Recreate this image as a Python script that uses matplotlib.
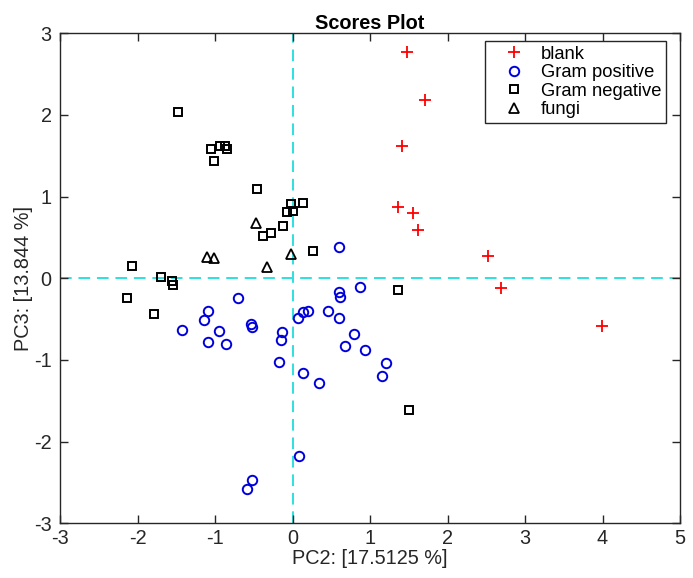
import matplotlib
matplotlib.use("Agg")
import matplotlib.pyplot as plt

plt.rcParams['font.family'] = ['Liberation Sans', 'DejaVu Sans']

blank_x = [1.474, 1.71, 1.41, 1.357, 1.56, 1.615, 2.52, 2.686, 3.997]
blank_y = [2.775, 2.18, 1.62, 0.877, 0.80, 0.59, 0.277, -0.12, -0.58]

gpos_x = [-0.707, -1.094, -1.146, -1.426, -0.948, -1.094, -0.854, -0.54, -0.519,
          -0.135, -0.152, -0.17, 0.6, 0.871, 0.596, 0.617, 0.067, 0.14, 0.204,
          0.458, 0.604, 0.79, 0.677, 0.935, 1.206, 1.155, 0.14, 0.346, 0.088,
          -0.526, -0.583]
gpos_y = [-0.245, -0.404, -0.51, -0.633, -0.65, -0.784, -0.804, -0.556, -0.596,
          -0.662, -0.756, -1.03, 0.383, -0.107, -0.172, -0.229, -0.49, -0.417, -0.40,
          -0.40, -0.49, -0.686, -0.825, -0.874, -1.037, -1.192, -1.155, -1.282, -2.172,
          -2.47, -2.576]

gneg_x = [-1.477, -1.056, -0.935, -0.871, -0.85, -1.017, -0.454, -0.023, 0.14,
          -0.071, 0.002, -0.119, -0.377, -0.282, 0.269, -2.067, -1.697, -1.555,
          -1.538, -2.14, -1.79, 1.357, 1.507]
gneg_y = [2.04, 1.587, 1.624, 1.624, 1.583, 1.432, 1.097, 0.91, 0.926,
          0.808, 0.82, 0.644, 0.522, 0.558, 0.334, 0.154, 0.016, -0.033,
          -0.082, -0.245, -0.44, -0.143, -1.613]

fungi_x = [-0.471, -1.107, -1.009, -0.333, -0.023]
fungi_y = [0.68, 0.26, 0.245, 0.14, 0.295]

labels = ['blank', 'Gram positive', 'Gram negative', 'fungi']
xticks = [-3, -2, -1, 0, 1, 2, 3, 4, 5]
yticks = [-3, -2, -1, 0, 1, 2, 3]

W, H = 693, 578
fig = plt.figure(figsize=(W / 100, H / 100), dpi=100)
ax = fig.add_axes([60 / W, 1 - 523.3 / H, 620 / W, 490 / H])

fs = 14.3
lfs = 13.2
txt_col = '#262626'

dash_col = '#2ee0e0'
ax.axhline(0, color=dash_col, lw=1.4, ls=(0, (6, 3.5)), zorder=1)
ax.axvline(0, color=dash_col, lw=1.4, ls=(0, (6, 3.5)), zorder=1)

ax.plot(blank_x, blank_y, ls='none', marker='+', color='#ff0000', ms=9, mew=1.3, label=labels[0], zorder=3)
ax.plot(gpos_x, gpos_y, ls='none', marker='o', mfc='none', mec='#0000dd', ms=6.8, mew=1.4, label=labels[1], zorder=3)
ax.plot(gneg_x, gneg_y, ls='none', marker='s', mfc='none', mec='black', ms=5.3, mew=1.4, label=labels[2], zorder=3)
ax.plot(fungi_x, fungi_y, ls='none', marker='^', mfc='none', mec='black', ms=7.3, mew=1.3, label=labels[3], zorder=3)

ax.set_xlim(-3, 5)
ax.set_ylim(-3, 3)
ax.set_xticks(xticks)
ax.set_yticks(yticks)
ax.set_xticklabels([str(t) for t in xticks])
ax.set_yticklabels([str(t) for t in yticks])
ax.tick_params(direction='in', top=True, right=True, length=6, width=1,
               labelsize=fs, colors=txt_col)
ax.tick_params(axis='x', pad=4)
ax.tick_params(axis='y', pad=6)
for s in ax.spines.values():
    s.set_color(txt_col)
    s.set_linewidth(1)

ax.set_xlabel('PC2: [17.5125 %]', fontsize=fs, color=txt_col, labelpad=1)
ax.set_ylabel('PC3: [13.844 %]', fontsize=fs, color=txt_col, labelpad=1)
ax.set_title('Scores Plot', fontsize=fs, fontweight='bold', pad=3)

leg = ax.legend(loc='upper right', bbox_to_anchor=(666 / W, 1 - 41 / H),
                bbox_transform=fig.transFigure,
                fontsize=lfs, frameon=True, fancybox=False,
                edgecolor=txt_col, framealpha=1, borderpad=0.25, labelspacing=0.08,
                handlelength=2.67, handletextpad=0.14, borderaxespad=0, markerscale=1.0)
leg.get_frame().set_linewidth(1)

fig.savefig('out.png', dpi=100)
